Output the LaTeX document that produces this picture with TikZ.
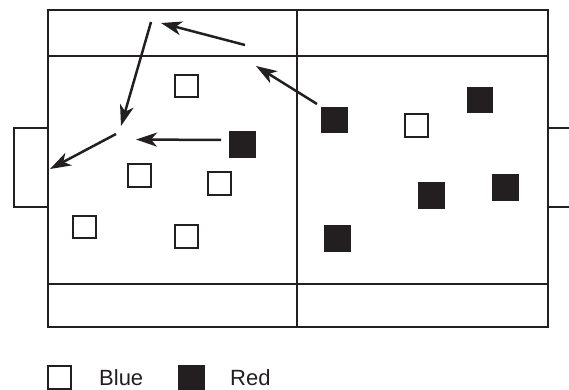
\documentclass[tikz,border=0pt]{standalone}
\usepackage{fontspec}
\setmainfont{Liberation Sans}
\usetikzlibrary{arrows.meta}
\definecolor{ink}{RGB}{35,31,32}
\tikzset{
  field/.style={draw=ink, line width=2.3pt},
  bluesq/.style={draw=ink, line width=2.3pt, fill=white, minimum size=22.5pt, inner sep=0pt, outer sep=0pt},
  redsq/.style={draw=ink, fill=ink, line width=0.5pt, minimum size=25.5pt, inner sep=0pt, outer sep=0pt},
  move/.style={draw=ink, line width=2.5pt, -{Stealth[length=21pt, width=14pt, inset=6pt]}},
  legendtxt/.style={anchor=base west, font=\fontsize{22}{26}\selectfont, text=ink, inner sep=0pt}
}
\begin{document}
\begin{tikzpicture}[x=1pt, y=-1pt]
\useasboundingbox (0,0) rectangle (569,390);
% field
\draw[field] (48,10) rectangle (548,327);
\draw[field] (48,56) -- (548,56);
\draw[field] (48,284) -- (548,284);
\draw[field] (297,10) -- (297,327);
% goals
\draw[field] (48,128) -- (14,128) -- (14,207) -- (48,207);
\draw[field] (548,128) -- (575,128);
\draw[field] (548,207) -- (575,207);
% blue players
\node[bluesq] (b1) at (186.5,86) {};
\node[bluesq] (b2) at (139.5,175.5) {};
\node[bluesq] (b3) at (219.5,183.5) {};
\node[bluesq] (b4) at (84.5,227) {};
\node[bluesq] (b5) at (186.5,236.5) {};
\node[bluesq] (b6) at (416.5,125.5) {};
% red players
\node[redsq] (r1) at (242,144) {};
\node[redsq] (r2) at (334,120) {};
\node[redsq] (r3) at (479.5,100) {};
\node[redsq] (r4) at (431,195) {};
\node[redsq] (r5) at (505,187) {};
\node[redsq] (r6) at (337,238) {};
% passing route
\coordinate (p1s) at (245,45);
\coordinate (p1e) at (161,23);
\coordinate (p2s) at (151,22);
\coordinate (p2e) at (121,126);
\coordinate (p3s) at (317,104);
\coordinate (p3e) at (256,66);
\coordinate (p4s) at (221,140);
\coordinate (p4e) at (136,139.5);
\coordinate (p5s) at (116,134);
\coordinate (p5e) at (50,169);
\draw[move] (p1s) -- (p1e);
\draw[move] (p2s) -- (p2e);
\draw[move] (p3s) -- (p3e);
\draw[move] (p4s) -- (p4e);
\draw[move] (p5s) -- (p5e);
% legend
\node[bluesq] (lb) at (59.5,377.5) {};
\node[legendtxt] (lbt) at (99,385) {Blue};
\node[redsq] (lr) at (191,377.5) {};
\node[legendtxt] (lrt) at (230,385) {Red};
\end{tikzpicture}
\end{document}
